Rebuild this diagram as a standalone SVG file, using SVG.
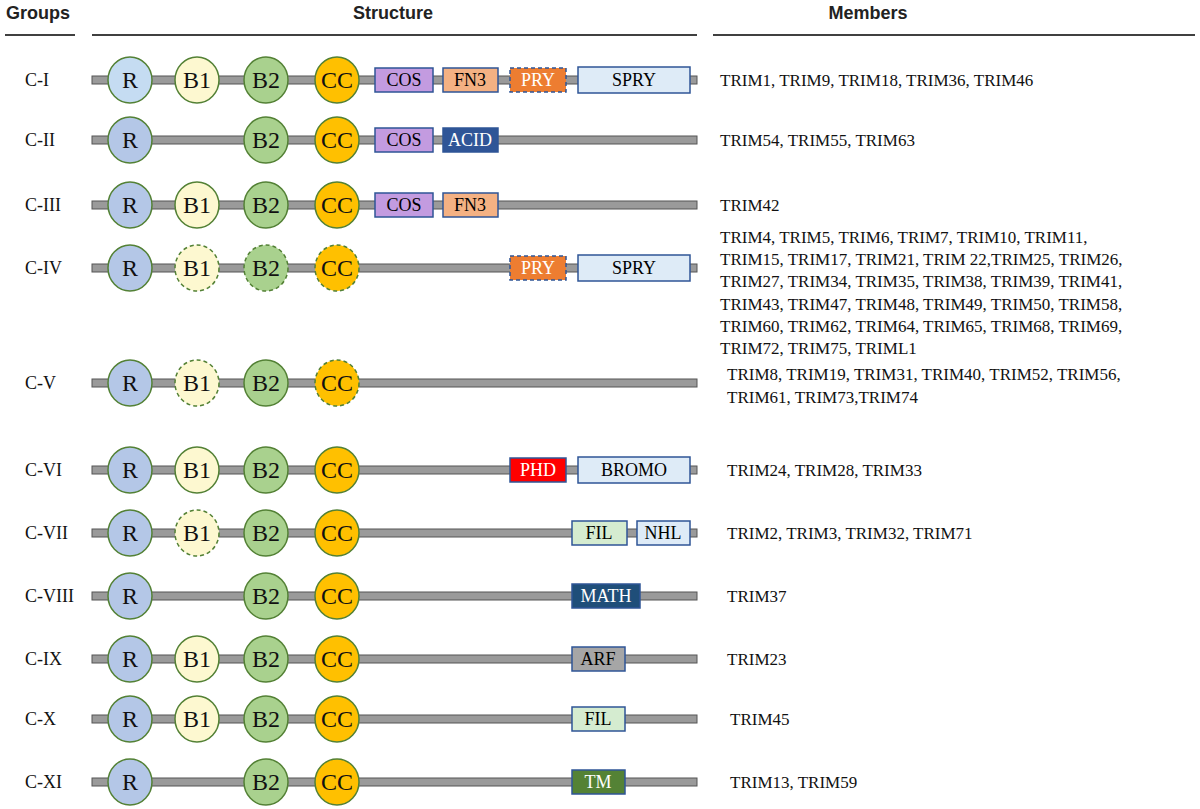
<svg xmlns="http://www.w3.org/2000/svg" width="1200" height="809" viewBox="0 0 1200 809">
<defs>
<style>
.h{font-family:"Liberation Sans",Arial,sans-serif;font-weight:bold;font-size:18px;fill:#222}
.g{font-family:"Liberation Serif","Times New Roman",serif;font-size:18px;fill:#111}
.m{font-family:"Liberation Serif","Times New Roman",serif;font-size:17px;fill:#111}
.bar{fill:#9a9a9a;stroke:#555;stroke-width:1}
.c{stroke:#538135;stroke-width:1.5}
.d{stroke-dasharray:4 3}
.ct{font-family:"Liberation Serif","Times New Roman",serif;font-size:24px;fill:#111;text-anchor:middle}
.bt{font-family:"Liberation Serif","Times New Roman",serif;font-size:18px;text-anchor:middle}
.bx{stroke:#2f5597;stroke-width:1.5}
</style>
</defs>
<g id="header">
<text class="h" x="6" y="19">Groups</text>
<line x1="5" y1="35" x2="75" y2="35" stroke="#000" stroke-width="1.5"/>
<text class="h" x="393" y="19" text-anchor="middle">Structure</text>
<line x1="92" y1="35" x2="697" y2="35" stroke="#000" stroke-width="1.5"/>
<text class="h" x="868" y="19" text-anchor="middle">Members</text>
<line x1="713" y1="35" x2="1195" y2="35" stroke="#000" stroke-width="1.5"/>
</g>
<g id="connectors">
<rect class="bar" x="92" y="76" width="605" height="8"/>
<rect class="bar" x="92" y="136" width="605" height="8"/>
<rect class="bar" x="92" y="201" width="605" height="8"/>
<rect class="bar" x="92" y="264" width="605" height="8"/>
<rect class="bar" x="92" y="379" width="605" height="8"/>
<rect class="bar" x="92" y="466" width="605" height="8"/>
<rect class="bar" x="92" y="529" width="605" height="8"/>
<rect class="bar" x="92" y="592" width="605" height="8"/>
<rect class="bar" x="92" y="655" width="605" height="8"/>
<rect class="bar" x="92" y="715" width="605" height="8"/>
<rect class="bar" x="92" y="778" width="605" height="8"/>
</g>
<g id="row1">
<text class="g" x="25" y="86">C-I</text>
<ellipse class="c" cx="130" cy="80" rx="22" ry="23" fill="#c5dcf2"/><text class="ct" x="130" y="88">R</text>
<ellipse class="c" cx="197" cy="80" rx="22" ry="23" fill="#fdf8d0"/><text class="ct" x="197" y="88">B1</text>
<ellipse class="c" cx="266" cy="80" rx="22" ry="23" fill="#a9d18e"/><text class="ct" x="266" y="88">B2</text>
<ellipse class="c" cx="337" cy="80" rx="22" ry="23" fill="#ffc000"/><text class="ct" x="337" y="88">CC</text>
<rect class="bx" x="375" y="68" width="58" height="24" fill="#c39be0"/><text class="bt" x="404" y="86" font-size="15">COS</text>
<rect class="bx" x="443" y="68" width="55" height="24" fill="#f4b183"/><text class="bt" x="470" y="86">FN3</text>
<rect class="bx d" x="510" y="68" width="56" height="24" fill="#ed7d31"/><text class="bt" x="538" y="86" fill="#fff">PRY</text>
<rect class="bx" x="578" y="67" width="112" height="26" fill="#deebf7"/><text class="bt" x="634" y="86">SPRY</text>
<text class="m" x="720" y="86">TRIM1, TRIM9, TRIM18, TRIM36, TRIM46</text>
</g>
<g id="row2">
<text class="g" x="25" y="146">C-II</text>
<ellipse class="c" cx="130" cy="140" rx="22" ry="23" fill="#b4c7e7"/><text class="ct" x="130" y="148">R</text>
<ellipse class="c" cx="266" cy="140" rx="22" ry="23" fill="#a9d18e"/><text class="ct" x="266" y="148">B2</text>
<ellipse class="c" cx="337" cy="140" rx="22" ry="23" fill="#ffc000"/><text class="ct" x="337" y="148">CC</text>
<rect class="bx" x="375" y="128" width="58" height="24" fill="#c39be0"/><text class="bt" x="404" y="146" font-size="15">COS</text>
<rect class="bx" x="443" y="128" width="55" height="24" fill="#2f5597"/><text class="bt" x="470" y="146" fill="#fff" font-size="16">ACID</text>
<text class="m" x="720" y="146">TRIM54, TRIM55, TRIM63</text>
</g>
<g id="row3">
<text class="g" x="25" y="211">C-III</text>
<ellipse class="c" cx="130" cy="205" rx="22" ry="23" fill="#b4c7e7"/><text class="ct" x="130" y="213">R</text>
<ellipse class="c" cx="197" cy="205" rx="22" ry="23" fill="#fdf8d0"/><text class="ct" x="197" y="213">B1</text>
<ellipse class="c" cx="266" cy="205" rx="22" ry="23" fill="#a9d18e"/><text class="ct" x="266" y="213">B2</text>
<ellipse class="c" cx="337" cy="205" rx="22" ry="23" fill="#ffc000"/><text class="ct" x="337" y="213">CC</text>
<rect class="bx" x="375" y="193" width="58" height="24" fill="#c39be0"/><text class="bt" x="404" y="211" font-size="15">COS</text>
<rect class="bx" x="443" y="193" width="55" height="24" fill="#f4b183"/><text class="bt" x="470" y="211">FN3</text>
<text class="m" x="720" y="211">TRIM42</text>
</g>
<g id="row4">
<text class="g" x="25" y="274">C-IV</text>
<ellipse class="c" cx="130" cy="268" rx="22" ry="23" fill="#b4c7e7"/><text class="ct" x="130" y="276">R</text>
<ellipse class="c d" cx="197" cy="268" rx="22" ry="23" fill="#fdf8d0"/><text class="ct" x="197" y="276">B1</text>
<ellipse class="c d" cx="266" cy="268" rx="22" ry="23" fill="#a9d18e"/><text class="ct" x="266" y="276">B2</text>
<ellipse class="c d" cx="337" cy="268" rx="22" ry="23" fill="#ffc000"/><text class="ct" x="337" y="276">CC</text>
<rect class="bx d" x="510" y="256" width="56" height="24" fill="#ed7d31"/><text class="bt" x="538" y="274" fill="#fff">PRY</text>
<rect class="bx" x="578" y="255" width="112" height="26" fill="#deebf7"/><text class="bt" x="634" y="274">SPRY</text>
<text class="m" x="720" y="243">TRIM4, TRIM5, TRIM6, TRIM7, TRIM10, TRIM11,</text>
<text class="m" x="720" y="265">TRIM15, TRIM17, TRIM21, TRIM 22,TRIM25, TRIM26,</text>
<text class="m" x="720" y="287">TRIM27, TRIM34, TRIM35, TRIM38, TRIM39, TRIM41,</text>
<text class="m" x="720" y="310">TRIM43, TRIM47, TRIM48, TRIM49, TRIM50, TRIM58,</text>
<text class="m" x="720" y="332">TRIM60, TRIM62, TRIM64, TRIM65, TRIM68, TRIM69,</text>
<text class="m" x="720" y="354">TRIM72, TRIM75, TRIML1</text>
</g>
<g id="row5">
<text class="g" x="25" y="389">C-V</text>
<ellipse class="c" cx="130" cy="383" rx="22" ry="23" fill="#b4c7e7"/><text class="ct" x="130" y="391">R</text>
<ellipse class="c d" cx="197" cy="383" rx="22" ry="23" fill="#fdf8d0"/><text class="ct" x="197" y="391">B1</text>
<ellipse class="c" cx="266" cy="383" rx="22" ry="23" fill="#a9d18e"/><text class="ct" x="266" y="391">B2</text>
<ellipse class="c d" cx="337" cy="383" rx="22" ry="23" fill="#ffc000"/><text class="ct" x="337" y="391">CC</text>
<text class="m" x="727" y="380">TRIM8, TRIM19, TRIM31, TRIM40, TRIM52, TRIM56,</text>
<text class="m" x="727" y="403">TRIM61, TRIM73,TRIM74</text>
</g>
<g id="row6">
<text class="g" x="25" y="476">C-VI</text>
<ellipse class="c" cx="130" cy="470" rx="22" ry="23" fill="#b4c7e7"/><text class="ct" x="130" y="478">R</text>
<ellipse class="c" cx="197" cy="470" rx="22" ry="23" fill="#fdf8d0"/><text class="ct" x="197" y="478">B1</text>
<ellipse class="c" cx="266" cy="470" rx="22" ry="23" fill="#a9d18e"/><text class="ct" x="266" y="478">B2</text>
<ellipse class="c" cx="337" cy="470" rx="22" ry="23" fill="#ffc000"/><text class="ct" x="337" y="478">CC</text>
<rect class="bx" x="510" y="458" width="56" height="24" fill="#ff0000"/><text class="bt" x="538" y="476" fill="#fff">PHD</text>
<rect class="bx" x="578" y="457" width="112" height="26" fill="#deebf7"/><text class="bt" x="634" y="476">BROMO</text>
<text class="m" x="727" y="476">TRIM24, TRIM28, TRIM33</text>
</g>
<g id="row7">
<text class="g" x="25" y="539">C-VII</text>
<ellipse class="c" cx="130" cy="533" rx="22" ry="23" fill="#b4c7e7"/><text class="ct" x="130" y="541">R</text>
<ellipse class="c d" cx="197" cy="533" rx="22" ry="23" fill="#fdf8d0"/><text class="ct" x="197" y="541">B1</text>
<ellipse class="c" cx="266" cy="533" rx="22" ry="23" fill="#a9d18e"/><text class="ct" x="266" y="541">B2</text>
<ellipse class="c" cx="337" cy="533" rx="22" ry="23" fill="#ffc000"/><text class="ct" x="337" y="541">CC</text>
<rect class="bx" x="572" y="521" width="55" height="24" fill="#d5ecd0"/><text class="bt" x="599" y="539">FIL</text>
<rect class="bx" x="637" y="521" width="53" height="24" fill="#deebf7"/><text class="bt" x="663" y="539">NHL</text>
<text class="m" x="727" y="539">TRIM2, TRIM3, TRIM32, TRIM71</text>
</g>
<g id="row8">
<text class="g" x="25" y="602">C-VIII</text>
<ellipse class="c" cx="130" cy="596" rx="22" ry="23" fill="#b4c7e7"/><text class="ct" x="130" y="604">R</text>
<ellipse class="c" cx="266" cy="596" rx="22" ry="23" fill="#a9d18e"/><text class="ct" x="266" y="604">B2</text>
<ellipse class="c" cx="337" cy="596" rx="22" ry="23" fill="#ffc000"/><text class="ct" x="337" y="604">CC</text>
<rect class="bx" x="572" y="584" width="68" height="24" fill="#1f4e79"/><text class="bt" x="606" y="602" fill="#fff">MATH</text>
<text class="m" x="727" y="602">TRIM37</text>
</g>
<g id="row9">
<text class="g" x="25" y="665">C-IX</text>
<ellipse class="c" cx="130" cy="659" rx="22" ry="23" fill="#b4c7e7"/><text class="ct" x="130" y="667">R</text>
<ellipse class="c" cx="197" cy="659" rx="22" ry="23" fill="#fdf8d0"/><text class="ct" x="197" y="667">B1</text>
<ellipse class="c" cx="266" cy="659" rx="22" ry="23" fill="#a9d18e"/><text class="ct" x="266" y="667">B2</text>
<ellipse class="c" cx="337" cy="659" rx="22" ry="23" fill="#ffc000"/><text class="ct" x="337" y="667">CC</text>
<rect class="bx" x="572" y="647" width="53" height="24" fill="#a6a6a6"/><text class="bt" x="598" y="665">ARF</text>
<text class="m" x="727" y="665">TRIM23</text>
</g>
<g id="row10">
<text class="g" x="25" y="725">C-X</text>
<ellipse class="c" cx="130" cy="719" rx="22" ry="23" fill="#b4c7e7"/><text class="ct" x="130" y="727">R</text>
<ellipse class="c" cx="197" cy="719" rx="22" ry="23" fill="#fdf8d0"/><text class="ct" x="197" y="727">B1</text>
<ellipse class="c" cx="266" cy="719" rx="22" ry="23" fill="#a9d18e"/><text class="ct" x="266" y="727">B2</text>
<ellipse class="c" cx="337" cy="719" rx="22" ry="23" fill="#ffc000"/><text class="ct" x="337" y="727">CC</text>
<rect class="bx" x="572" y="707" width="53" height="24" fill="#d5ecd0"/><text class="bt" x="598" y="725">FIL</text>
<text class="m" x="730" y="725">TRIM45</text>
</g>
<g id="row11">
<text class="g" x="25" y="788">C-XI</text>
<ellipse class="c" cx="130" cy="782" rx="22" ry="23" fill="#b4c7e7"/><text class="ct" x="130" y="790">R</text>
<ellipse class="c" cx="266" cy="782" rx="22" ry="23" fill="#a9d18e"/><text class="ct" x="266" y="790">B2</text>
<ellipse class="c" cx="337" cy="782" rx="22" ry="23" fill="#ffc000"/><text class="ct" x="337" y="790">CC</text>
<rect class="bx" x="572" y="770" width="53" height="24" fill="#548235"/><text class="bt" x="598" y="788" fill="#fff">TM</text>
<text class="m" x="730" y="788">TRIM13, TRIM59</text>
</g>
</svg>
